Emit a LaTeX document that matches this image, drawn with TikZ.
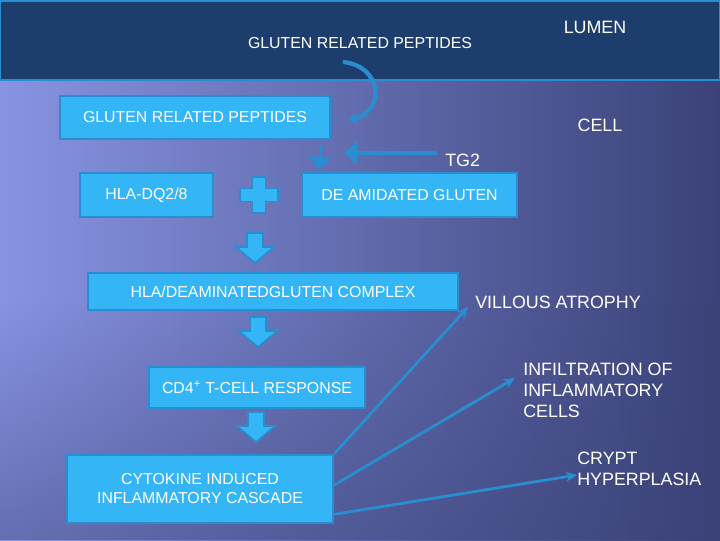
\documentclass[tikz,border=0pt]{standalone}
\usepackage{fontspec}
\setmainfont{Liberation Sans}
\usepackage{tikz}
\usetikzlibrary{calc,arrows.meta,fadings}
\definecolor{bandblue}{RGB}{29,62,108}
\definecolor{edgeblue}{RGB}{40,142,208}
\definecolor{boxblue}{RGB}{52,182,246}
\definecolor{bglight}{RGB}{136,148,226}
\definecolor{bgmid}{RGB}{92,99,168}
\definecolor{bgdark}{RGB}{58,66,120}

\tikzset{
	box/.style={draw=edgeblue, fill=boxblue, line width=1.8pt, text=white, inner sep=0pt, align=center, font=\fontsize{11.3}{13.5}\selectfont},
	toptext/.style={text=white, inner sep=0pt, font=\fontsize{11.3}{13.5}\selectfont},
	sidetext/.style={text=white, inner sep=0pt, align=left, font=\fontsize{12.7}{14.9}\selectfont},
	link/.style={draw=edgeblue, line width=2pt, -{Stealth[length=8pt,width=7pt]}},
	thinarr/.style={draw=edgeblue, line width=2.2pt, -{Triangle[length=9pt,width=16pt]}},
	curve/.style={draw=edgeblue, line width=3pt, -{Stealth[length=7pt,width=9pt]}},
	downarr/.pic={\filldraw[draw=edgeblue, fill=boxblue, line width=1.2pt] (-8,0) -- (-8,14) -- (-19,14) -- (0,30) -- (19,14) -- (8,14) -- (8,0) -- cycle;},
	plussign/.pic={\filldraw[draw=edgeblue, fill=boxblue, line width=1.2pt] (-6.5,-18) -- (6.5,-18) -- (6.5,-6.5) -- (19,-6.5) -- (19,6.5) -- (6.5,6.5) -- (6.5,18) -- (-6.5,18) -- (-6.5,6.5) -- (-19,6.5) -- (-19,-6.5) -- (-6.5,-6.5) -- cycle;}
}

\begin{document}
\begin{tikzpicture}[x=0.025cm, y=-0.025cm]
	\useasboundingbox (0,0) rectangle (720,540);
	\shade[left color=bglight, middle color=bgmid, right color=bgdark] (0,0) rectangle (720,540);
	\fill[bgdark, opacity=0.45, path fading=north] (0,300) rectangle (720,540);
	
	% lumen
	\filldraw[fill=bandblue, draw=edgeblue, line width=2pt] (0,1) rectangle (720,80);
	\node[toptext] (gtop) at (360,43) {GLUTEN RELATED PEPTIDES};
	\node[sidetext] (lumen) at (595,27) {LUMEN};
	\node[sidetext] (cell) at (600,125) {CELL};
	
	% boxes
	\node[box, minimum width=6.75cm, minimum height=1.075cm] (gbox) at (195,117.5) {GLUTEN RELATED PEPTIDES};
	\node[box, minimum width=3.325cm, minimum height=1.1cm] (hla) at (146.5,195) {HLA-DQ2/8};
	\node[box, minimum width=5.375cm, minimum height=1.1cm] (deam) at (409.5,195) {DE AMIDATED GLUTEN};
	\node[box, minimum width=9.25cm, minimum height=0.925cm] (cmplx) at (273,291.5) {HLA/DEAMINATEDGLUTEN COMPLEX};
	\node[box, minimum width=5.4cm, minimum height=1.025cm] (cd4) at (257,387.5) {CD4\textsuperscript{+} T-CELL RESPONSE};
	\node[box, minimum width=6.65cm, minimum height=1.7cm] (cyto) at (200,489) {CYTOKINE INDUCED\\INFLAMMATORY CASCADE};
	
	% outcomes
	\node[sidetext, anchor=west] (tg2) at (445,160) {TG2};
	\node[sidetext, anchor=west] (vill) at (475,302) {VILLOUS ATROPHY};
	\node[sidetext, anchor=west] (infl) at (523,390) {INFILTRATION OF\\INFLAMMATORY\\CELLS};
	\node[sidetext, anchor=west] (crypt) at (577,469) {CRYPT\\HYPERPLASIA};
	
	% block arrows
	\pic (pl) at (259,195) {plussign};
	\pic (dn1) at (255,233) {downarr};
	\pic (dn2) at (258,317) {downarr};
	\pic (dn3) at (256,412) {downarr};
	
	% arrows
	\coordinate (cstart) at (343,62);
	\draw[curve] (cstart) .. controls (382,66) and (386,110) .. ($(gbox.east)+(17,3)$);
	\draw[thinarr] ($(gbox.south east)+(-10,6)$) -- ($(deam.north west)+(18,-2)$);
	\draw[thinarr] ($(tg2.west)+(-8,-7)$) -- ($(gbox.east |- tg2.west)+(13,-7)$);
	\draw[link] (cyto.north east) -- ($(vill.west)+(-7,5)$);
	\draw[link] ($(cyto.east)+(0,-4)$) -- ($(infl.west)+(-8,-12)$);
	\draw[link] ($(cyto.south east)+(0,-10)$) -- ($(crypt.west)+(0,6)$);
\end{tikzpicture}
\end{document}
